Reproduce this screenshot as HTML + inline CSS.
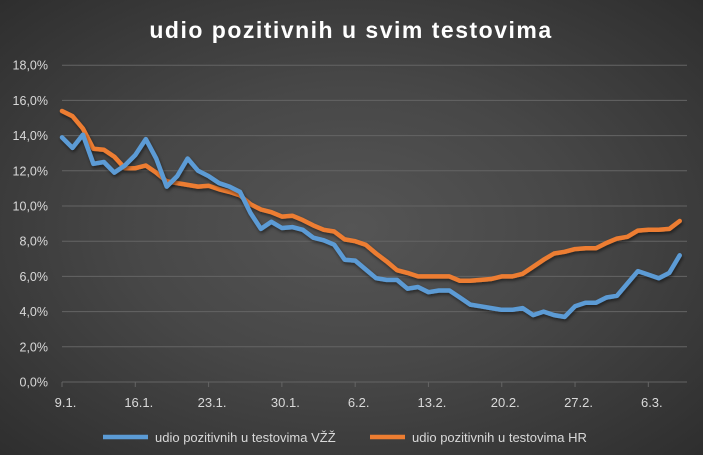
<!DOCTYPE html>
<html><head><meta charset="utf-8"><style>
html,body{margin:0;padding:0;}
body{width:703px;height:455px;overflow:hidden;background:radial-gradient(ellipse at 50% 50%,#555555 0%,#474747 45%,#2e2e2e 100%);font-family:"Liberation Sans",sans-serif;}
</style></head><body>
<svg width="703" height="455" xmlns="http://www.w3.org/2000/svg" style="position:absolute;left:0;top:0">
<defs><filter id="sh" x="-5%" y="-5%" width="110%" height="120%"><feDropShadow dx="1" dy="2" stdDeviation="1.5" flood-color="#000" flood-opacity="0.5"/></filter></defs>
<text x="351" y="38" text-anchor="middle" fill="#fff" font-family="Liberation Sans" font-weight="bold" font-size="23" letter-spacing="1.5">udio pozitivnih u svim testovima</text>
<g id="grid" stroke="#646464" stroke-width="1"></g>
<g id="yl" fill="#d9d9d9" font-size="12.5" text-anchor="end"></g>
<g id="xl" fill="#d9d9d9" font-size="13" text-anchor="middle"></g>
<polyline id="o" fill="none" stroke="#ed7d31" stroke-width="4.5" stroke-linejoin="round" stroke-linecap="round" filter="url(#sh)"/>
<polyline id="b" fill="none" stroke="#5b9bd5" stroke-width="4.5" stroke-linejoin="round" stroke-linecap="round" filter="url(#sh)"/>
<line x1="103" y1="437" x2="148" y2="437" stroke="#5b9bd5" stroke-width="4.5"/>
<text x="155" y="442" fill="#d9d9d9" font-size="13">udio pozitivnih u testovima VŽŽ</text>
<line x1="370" y1="437" x2="405" y2="437" stroke="#ed7d31" stroke-width="4.5"/>
<text x="412" y="442" fill="#d9d9d9" font-size="13">udio pozitivnih u testovima HR</text>
</svg>
<script>
var ns="http://www.w3.org/2000/svg";
function el(p,t,a,txt){var e=document.createElementNS(ns,t);for(var k in a)e.setAttribute(k,a[k]);if(txt)e.textContent=txt;document.getElementById(p).appendChild(e);}
for(var i=0;i<=9;i++){var y=382-i*35.2;el('grid','line',{x1:62,x2:687,y1:y,y2:y});el('yl','text',{x:48,y:y+4.5},(i*2)+",0%");}
var labs=["9.1.","16.1.","23.1.","30.1.","6.2.","13.2.","20.2.","27.2.","6.3."];
for(var j=0;j<9;j++){var x=62+j*7*10.47;el('grid','line',{x1:x,x2:x,y1:382,y2:387});el('xl','text',{x:x+3.5,y:407},labs[j]);}
var B=[13.9,13.3,14.05,12.4,12.5,11.9,12.3,12.9,13.8,12.7,11.1,11.7,12.7,12.0,11.7,11.3,11.1,10.8,9.6,8.7,9.1,8.75,8.8,8.65,8.2,8.05,7.8,6.95,6.9,6.4,5.9,5.8,5.8,5.3,5.4,5.1,5.2,5.2,4.8,4.4,4.3,4.2,4.1,4.1,4.2,3.8,4.0,3.8,3.7,4.3,4.5,4.5,4.8,4.9,5.6,6.3,6.1,5.9,6.2,7.2];
var O=[15.4,15.1,14.4,13.25,13.2,12.8,12.15,12.15,12.3,11.9,11.4,11.3,11.2,11.1,11.15,10.95,10.8,10.6,10.1,9.8,9.65,9.4,9.45,9.2,8.9,8.65,8.55,8.1,8.0,7.8,7.3,6.85,6.35,6.2,6.0,6.0,6.0,6.0,5.75,5.75,5.8,5.85,6.0,6.0,6.15,6.55,6.95,7.3,7.4,7.55,7.6,7.6,7.9,8.15,8.25,8.6,8.65,8.65,8.7,9.15];
function pts(a){return a.map(function(v,i){return (62+i*10.47).toFixed(1)+","+(382-v*17.6).toFixed(1);}).join(" ");}
document.getElementById('b').setAttribute('points',pts(B));
document.getElementById('o').setAttribute('points',pts(O));
</script>
</body></html>
